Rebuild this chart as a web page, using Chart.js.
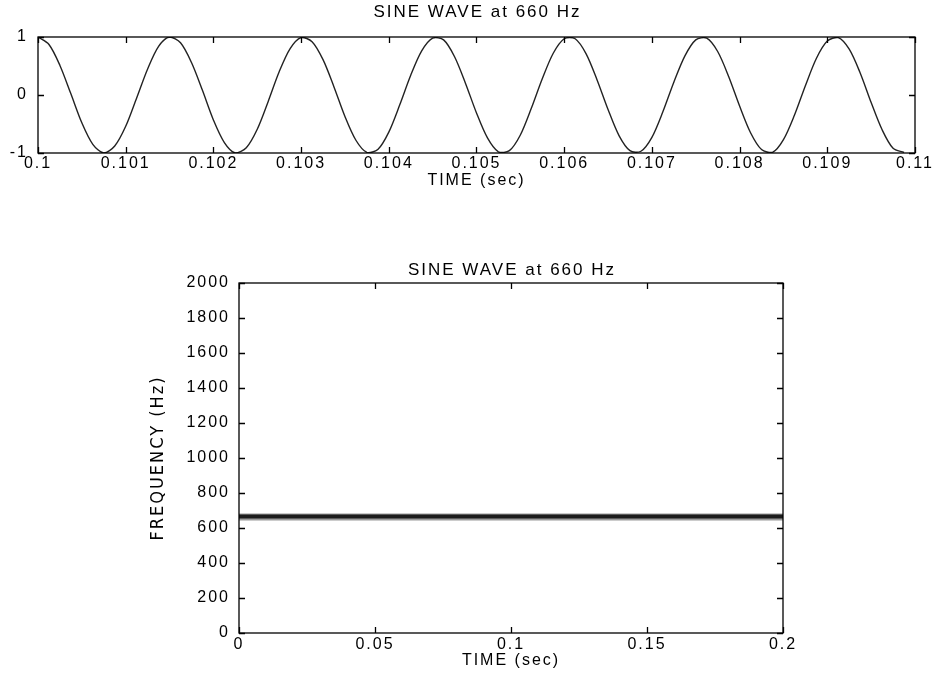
<!DOCTYPE html>
<html>
<head>
<meta charset="utf-8">
<script src="https://cdn.jsdelivr.net/npm/chart.js@4/dist/chart.umd.min.js"></script>
<style>
    html, body { margin: 0; padding: 0; background: #fff; }
    #page { position: relative; width: 935px; height: 673px; }
    .panel { position: absolute; left: 0; width: 935px; }
</style>
</head>
<body>
<div id="page">
    <div class="panel" style="top:0;height:200px"><canvas id="waveChart" width="935" height="200"></canvas></div>
    <div class="panel" style="top:250px;height:423px"><canvas id="specChart" width="935" height="423"></canvas></div>
</div>
<script>
    // Samples of the 660 Hz tone (8 kHz sampling from t = 0.1 s).
    const sampleRate = 8000;
    const startTime = 0.1;
    const waveValues = [
        1.00, 0.87, 0.51, 0.02, -0.48, -0.85, -1.00, -0.88, -0.54, -0.05,
        0.45, 0.84, 1.00, 0.90, 0.56, 0.08, -0.43, -0.82, -1.00, -0.91,
        -0.59, -0.11, 0.40, 0.80, 0.99, 0.92, 0.61, 0.14, -0.37, -0.78,
        -0.99, -0.94, -0.64, -0.17, 0.34, 0.76, 0.98, 0.95, 0.66, 0.20,
        -0.31, -0.74, -0.98, -0.96, -0.69, -0.23, 0.28, 0.72, 0.97, 0.97,
        0.71, 0.26, -0.25, -0.70, -0.96, -0.97, -0.73, -0.29, 0.22, 0.67,
        0.95, 0.98, 0.75, 0.32, -0.19, -0.65, -0.94, -0.99, -0.77, -0.35,
        0.16, 0.63, 0.93, 0.99, 0.79, 0.38, -0.13, -0.60, -0.92, -0.99
    ];
    const waveTicksX = [0.1, 0.101, 0.102, 0.103, 0.104, 0.105, 0.106, 0.107, 0.108, 0.109, 0.11];
    const waveTicksY = [-1, 0, 1];

    // Spectrogram: one ridge around 660 Hz for the whole 0.2 s.
    const bandTimes = [0, 0.2];
    const bandOuter = [643, 683];   // faint edge of the ridge (Hz)
    const bandCore = [654, 677];    // dark core of the ridge (Hz)
    const specTicksX = [0, 0.05, 0.1, 0.15, 0.2];
    const specTicksY = [0, 200, 400, 600, 800, 1000, 1200, 1400, 1600, 1800, 2000];

    const titleText = 'SINE WAVE at 660 Hz';
    const timeLabel = 'TIME (sec)';
    const freqLabel = 'FREQUENCY (Hz)';

    const FONT = 'Liberation Sans, Arial, sans-serif';
    const NARROW = 'Liberation Sans Narrow, DejaVu Sans Condensed, ' + FONT;
    const SPACING = '2px';

    // Canvas has letterSpacing; Chart.js doesn't expose it, so set it before measuring and drawing.
    const spacingPlugin = {
        id: 'spacing',
        beforeUpdate(chart) { chart.ctx.letterSpacing = SPACING; },
        beforeDraw(chart) { chart.ctx.letterSpacing = SPACING; }
    };

    // Title centred over the axes box (the built-in title centres over the whole canvas).
    const panelTitlePlugin = {
        id: 'panelTitle',
        afterDraw(chart, args, opts) {
            const a = chart.chartArea;
            const ctx = chart.ctx;
            ctx.save();
            ctx.letterSpacing = SPACING;
            ctx.font = '17px ' + FONT;
            ctx.fillStyle = '#000';
            ctx.textAlign = 'center';
            ctx.textBaseline = 'middle';
            ctx.fillText(opts.text, (a.left + a.right) / 2 + 1, opts.y);
            ctx.restore();
        }
    };

    // MATLAB style: closed box with ticks pointing inwards on all four sides.
    const boxPlugin = {
        id: 'matlabBox',
        afterDraw(chart) {
            const ctx = chart.ctx;
            const a = chart.chartArea;
            const sx = chart.scales.x;
            const sy = chart.scales.y;
            const len = 6;
            ctx.save();
            ctx.strokeStyle = '#000';
            ctx.lineWidth = 1.3;
            ctx.strokeRect(a.left, a.top, a.right - a.left, a.bottom - a.top);
            ctx.beginPath();
            sx.ticks.forEach(function (t, i) {
                const px = Math.round(sx.getPixelForTick(i)) + 0.5;
                ctx.moveTo(px, a.bottom); ctx.lineTo(px, a.bottom - len);
                ctx.moveTo(px, a.top); ctx.lineTo(px, a.top + len);
            });
            sy.ticks.forEach(function (t, i) {
                const py = Math.round(sy.getPixelForTick(i)) + 0.5;
                ctx.moveTo(a.left, py); ctx.lineTo(a.left + len, py);
                ctx.moveTo(a.right, py); ctx.lineTo(a.right - len, py);
            });
            ctx.stroke();
            ctx.restore();
        }
    };

    function fixedTicks(values) {
        return function (scale) {
            scale.ticks = values.map(function (v) { return { value: v }; });
        };
    }

    function axisBase(min, max, tickValues) {
        return {
            type: 'linear',
            min: min,
            max: max,
            grid: { display: false, drawTicks: false },
            border: { display: false },
            afterBuildTicks: fixedTicks(tickValues),
            ticks: {
                color: '#000',
                font: { family: FONT, size: 16 },
                autoSkip: false,
                maxRotation: 0,
                callback: function (v) { return String(Number(v.toFixed(4))); }
            }
        };
    }

    // ---- top panel: waveform ----
    const waveX = axisBase(0.1, 0.11, waveTicksX);
    waveX.ticks.padding = 1;
    waveX.title = { display: true, text: timeLabel, color: '#000', font: { family: FONT, size: 16 }, padding: { top: 0, bottom: 10 } };
    waveX.afterFit = function (s) { s.height = 47; };
    const waveY = axisBase(-1, 1, waveTicksY);
    waveY.ticks.padding = 10;
    waveY.afterFit = function (s) { s.width = 38; };

    new Chart(document.getElementById('waveChart'), {
        type: 'line',
        data: {
            datasets: [{
                data: waveValues.map(function (v, k) { return { x: startTime + k / sampleRate, y: v }; }),
                borderColor: '#222',
                borderWidth: 1.4,
                pointRadius: 0,
                tension: 0.3,
                fill: false
            }]
        },
        options: {
            responsive: false,
            animation: false,
            events: [],
            layout: { padding: { left: 0, right: 20, top: 37, bottom: 0 } },
            plugins: {
                legend: { display: false },
                tooltip: { enabled: false },
                panelTitle: { text: titleText, y: 12 }
            },
            scales: { x: waveX, y: waveY }
        },
        plugins: [spacingPlugin, boxPlugin, panelTitlePlugin]
    });

    // ---- bottom panel: spectrogram ----
    const specX = axisBase(0, 0.2, specTicksX);
    specX.ticks.padding = 2;
    specX.title = { display: true, text: timeLabel, color: '#000', font: { family: FONT, size: 16 }, padding: { top: 0, bottom: 3 } };
    specX.afterFit = function (s) { s.height = 40; };
    const specY = axisBase(0, 2000, specTicksY);
    specY.ticks.padding = 9;
    specY.title = { display: true, text: freqLabel, color: '#000', font: { family: NARROW, size: 18 }, padding: { top: 148, bottom: 0 } };
    specY.afterFit = function (s) { s.width = 239; };

    function bandLine(values, idx, fillColor) {
        return {
            data: bandTimes.map(function (t) { return { x: t, y: values[idx] }; }),
            borderWidth: 0,
            borderColor: 'rgba(0,0,0,0)',
            backgroundColor: fillColor,
            pointRadius: 0,
            fill: idx === 0 ? '-1' : false
        };
    }

    new Chart(document.getElementById('specChart'), {
        type: 'line',
        data: {
            datasets: [
                bandLine(bandCore, 1, '#1c1c1c'),
                bandLine(bandCore, 0, '#1c1c1c'),
                bandLine(bandOuter, 1, '#9a9a9a'),
                bandLine(bandOuter, 0, '#9a9a9a')
            ]
        },
        options: {
            responsive: false,
            animation: false,
            events: [],
            layout: { padding: { left: 0, right: 152, top: 33, bottom: 0 } },
            plugins: {
                legend: { display: false },
                tooltip: { enabled: false },
                panelTitle: { text: titleText, y: 20 }
            },
            scales: { x: specX, y: specY }
        },
        plugins: [spacingPlugin, boxPlugin, panelTitlePlugin]
    });
</script>
</body>
</html>
